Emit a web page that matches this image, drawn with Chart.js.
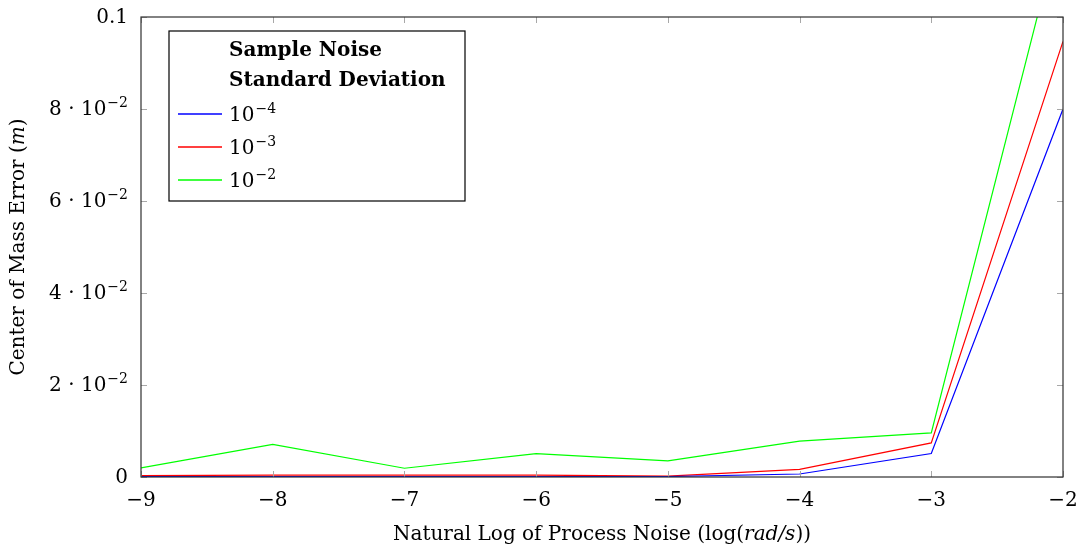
<!DOCTYPE html>
<html>
<head>
<meta charset="utf-8">
<script src="https://cdn.jsdelivr.net/npm/chart.js@4"></script>
<style>
  html, body { margin: 0; padding: 0; background: #fff; }
  #wrap { width: 1082px; height: 553px; }
</style>
</head>
<body>
<div id="wrap"><canvas id="chart"></canvas></div>
<script>
// data
const xValues = [-9, -8, -7, -6, -5, -4, -3, -2];
const err1e4 = [0.0001, 0.0001, 0.0001, 0.0001, 0.0001, 0.00065, 0.0051, 0.0800];
const err1e3 = [0.0003, 0.0004, 0.0004, 0.0004, 0.0002, 0.00165, 0.0074, 0.0947];
const err1e2 = [0.0020, 0.0071, 0.0019, 0.0051, 0.0035, 0.0078, 0.0096, 0.1220];

const seriesExponents = ['−4', '−3', '−2'];
const seriesColors = ['#0000ff', '#ff0000', '#00ff00'];
const legendTitle = ['Sample Noise', 'Standard Deviation'];

const xTickLabels = ['−9', '−8', '−7', '−6', '−5', '−4', '−3', '−2'];
// "base^exponent"
const yTickLabels = ['0', '2 · 10^−2', '4 · 10^−2', '6 · 10^−2', '8 · 10^−2', '0.1'];

// [text, italic]
const xTitle = [['Natural Log of Process Noise (log(', false], ['rad/s', true], ['))', false]];
const yTitle = [['Center of Mass Error (', false], ['m', true], [')', false]];

const FONT = "'DejaVu Serif', serif";
const FONT_SIZE = 20;
const SUP_SIZE = 14;

function pts(ys) {
  return xValues.map((x, i) => ({ x: x, y: ys[i] }));
}

function drawMixed(ctx, parts, x, y, size) {
  // centred run of text with italic pieces
  let total = 0;
  const widths = parts.map(p => {
    ctx.font = (p[1] ? 'italic ' : '') + size + 'px ' + FONT;
    const w = ctx.measureText(p[0]).width;
    total += w;
    return w;
  });
  let cx = x - total / 2;
  parts.forEach((p, i) => {
    ctx.font = (p[1] ? 'italic ' : '') + size + 'px ' + FONT;
    ctx.fillText(p[0], cx, y);
    cx += widths[i];
  });
}

// text with optional superscript, right edge at x
function drawPow(ctx, label, x, y) {
  const [base, exp] = label.split('^');
  ctx.font = FONT_SIZE + 'px ' + FONT;
  const bw = ctx.measureText(base).width;
  let ew = 0;
  if (exp) {
    ctx.font = SUP_SIZE + 'px ' + FONT;
    ew = ctx.measureText(exp).width + 1;
  }
  const left = x - bw - ew;
  ctx.font = FONT_SIZE + 'px ' + FONT;
  ctx.fillText(base, left, y);
  if (exp) {
    ctx.font = SUP_SIZE + 'px ' + FONT;
    ctx.fillText(exp, left + bw + 1, y - 7);
  }
}

const framePlugin = {
  id: 'frame',
  afterDatasetsDraw(chart) {
    const { ctx, chartArea: a, scales } = chart;
    ctx.save();
    // inward ticks on all four sides
    ctx.strokeStyle = '#a8a8a8';
    ctx.lineWidth = 1;
    const len = 6;
    ctx.beginPath();
    scales.x.ticks.forEach(t => {
      const px = Math.round(scales.x.getPixelForValue(t.value)) + 0.5;
      ctx.moveTo(px, a.bottom); ctx.lineTo(px, a.bottom - len);
      ctx.moveTo(px, a.top); ctx.lineTo(px, a.top + len);
    });
    scales.y.ticks.forEach(t => {
      const py = Math.round(scales.y.getPixelForValue(t.value)) + 0.5;
      ctx.moveTo(a.left, py); ctx.lineTo(a.left + len, py);
      ctx.moveTo(a.right, py); ctx.lineTo(a.right - len, py);
    });
    ctx.stroke();
    // frame
    ctx.strokeStyle = '#303030';
    ctx.lineWidth = 1.2;
    ctx.strokeRect(a.left, a.top, a.right - a.left, a.bottom - a.top);

    // y tick labels
    ctx.fillStyle = '#000';
    ctx.textBaseline = 'middle';
    ctx.textAlign = 'left';
    scales.y.ticks.forEach((t, i) => {
      drawPow(ctx, yTickLabels[i], a.left - 13, scales.y.getPixelForValue(t.value) + 1);
    });

    // legend box
    const bx = a.left + 28, by = a.top + 14, bw = 296, bh = 170;
    ctx.fillStyle = '#fff';
    ctx.fillRect(bx, by, bw, bh);
    ctx.strokeStyle = '#000';
    ctx.lineWidth = 1.2;
    ctx.strokeRect(bx, by, bw, bh);
    ctx.fillStyle = '#000';
    ctx.font = 'bold ' + FONT_SIZE + 'px ' + FONT;
    legendTitle.forEach((t, i) => ctx.fillText(t, bx + 60, by + 20 + i * 30));
    chart.data.datasets.forEach((ds, i) => {
      const ly = by + 83 + i * 33;
      ctx.strokeStyle = ds.borderColor;
      ctx.lineWidth = 1.4;
      ctx.beginPath();
      ctx.moveTo(bx + 9, ly);
      ctx.lineTo(bx + 53, ly);
      ctx.stroke();
      ctx.fillStyle = '#000';
      ctx.font = FONT_SIZE + 'px ' + FONT;
      ctx.fillText('10', bx + 60, ly + 2);
      const w = ctx.measureText('10').width;
      ctx.font = SUP_SIZE + 'px ' + FONT;
      ctx.fillText(seriesExponents[i], bx + 61 + w, ly - 5);
    });

    // axis titles
    ctx.fillStyle = '#000';
    drawMixed(ctx, xTitle, (a.left + a.right) / 2, 535, FONT_SIZE);
    ctx.translate(19, (a.top + a.bottom) / 2);
    ctx.rotate(-Math.PI / 2);
    drawMixed(ctx, yTitle, 0, 0, FONT_SIZE);
    ctx.restore();
  }
};

const ctx = document.getElementById('chart').getContext('2d');
const lineStyle = { borderWidth: 1.2, pointRadius: 0, tension: 0, fill: false };
new Chart(ctx, {
  type: 'line',
  data: {
    datasets: [
      Object.assign({ label: '10^-4', data: pts(err1e4), borderColor: seriesColors[0] }, lineStyle),
      Object.assign({ label: '10^-3', data: pts(err1e3), borderColor: seriesColors[1] }, lineStyle),
      Object.assign({ label: '10^-2', data: pts(err1e2), borderColor: seriesColors[2] }, lineStyle),
    ],
  },
  options: {
    maintainAspectRatio: false,
    animation: false,
    layout: { padding: { top: 17, right: 19, left: 0, bottom: 0 } },
    plugins: {
      legend: { display: false },
      tooltip: { enabled: false },
    },
    scales: {
      x: {
        type: 'linear',
        min: -9,
        max: -2,
        grid: { display: false },
        border: { display: false },
        afterFit: s => { s.height = 76; },
        ticks: {
          stepSize: 1,
          padding: 4,
          color: '#000',
          font: { family: FONT, size: FONT_SIZE },
          callback: (v, i) => xTickLabels[i],
          maxRotation: 0,
        },
      },
      y: {
        min: 0,
        max: 0.1,
        grid: { display: false },
        border: { display: false },
        afterFit: s => { s.width = 141; },
        ticks: {
          stepSize: 0.02,
          display: false,
        },
      },
    },
  },
  plugins: [framePlugin],
});
</script>
</body>
</html>
